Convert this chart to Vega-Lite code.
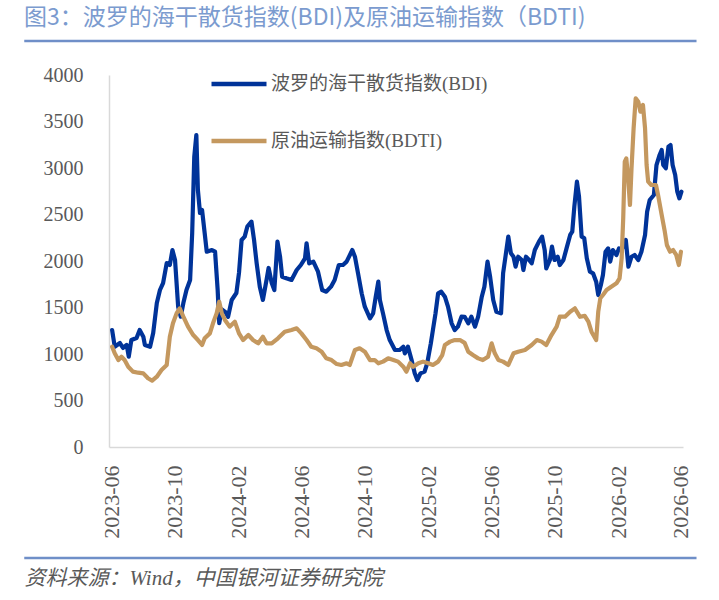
{
"$schema": "https://vega.github.io/schema/vega-lite/v6.json",
"width": 574, "height": 372,
"autosize": {"type": "none"},
"padding": {"left": 109, "top": 75, "right": 36, "bottom": 153},
"background": "white",
"config": {"view": {"stroke": null}, "font": "Liberation Serif"},
"title": {"text": "图3：波罗的海干散货指数(BDI)及原油运输指数（BDTI)", "anchor": "start", "frame": "group", "dx": -85, "dy": 29, "offset": 21, "fontSize": 23, "fontWeight": "normal", "font": "Noto Sans CJK SC", "color": "#7b9bcf", "baseline": "alphabetic"},
"datasets": {
"lines": [
{"d":"2023-06-03","s":"BDI","v":1258},{"d":"2023-06-08","s":"BDI","v":1078},{"d":"2023-06-18","s":"BDI","v":1118},{"d":"2023-06-24","s":"BDI","v":1065},{"d":"2023-07-01","s":"BDI","v":1097},{"d":"2023-07-05","s":"BDI","v":971},{"d":"2023-07-10","s":"BDI","v":1150},{"d":"2023-07-20","s":"BDI","v":1172},{"d":"2023-07-26","s":"BDI","v":1258},{"d":"2023-08-02","s":"BDI","v":1186},{"d":"2023-08-05","s":"BDI","v":1097},{"d":"2023-08-15","s":"BDI","v":1078},{"d":"2023-08-21","s":"BDI","v":1226},{"d":"2023-08-28","s":"BDI","v":1548},{"d":"2023-09-03","s":"BDI","v":1688},{"d":"2023-09-09","s":"BDI","v":1763},{"d":"2023-09-16","s":"BDI","v":1978},{"d":"2023-09-22","s":"BDI","v":1957},{"d":"2023-09-27","s":"BDI","v":2118},{"d":"2023-10-02","s":"BDI","v":2011},{"d":"2023-10-08","s":"BDI","v":1509},{"d":"2023-10-13","s":"BDI","v":1401},{"d":"2023-10-18","s":"BDI","v":1548},{"d":"2023-10-24","s":"BDI","v":1688},{"d":"2023-10-31","s":"BDI","v":1796},{"d":"2023-11-04","s":"BDI","v":2301},{"d":"2023-11-08","s":"BDI","v":3122},{"d":"2023-11-12","s":"BDI","v":3355},{"d":"2023-11-15","s":"BDI","v":2763},{"d":"2023-11-19","s":"BDI","v":2516},{"d":"2023-11-23","s":"BDI","v":2548},{"d":"2023-11-28","s":"BDI","v":2301},{"d":"2023-12-02","s":"BDI","v":2100},{"d":"2023-12-12","s":"BDI","v":2118},{"d":"2023-12-18","s":"BDI","v":2100},{"d":"2023-12-23","s":"BDI","v":1688},{"d":"2023-12-26","s":"BDI","v":1333},{"d":"2023-12-31","s":"BDI","v":1480},{"d":"2024-01-07","s":"BDI","v":1450},{"d":"2024-01-12","s":"BDI","v":1400},{"d":"2024-01-19","s":"BDI","v":1581},{"d":"2024-01-28","s":"BDI","v":1656},{"d":"2024-02-02","s":"BDI","v":1871},{"d":"2024-02-07","s":"BDI","v":2226},{"d":"2024-02-13","s":"BDI","v":2262},{"d":"2024-02-18","s":"BDI","v":2369},{"d":"2024-02-26","s":"BDI","v":2423},{"d":"2024-03-02","s":"BDI","v":2226},{"d":"2024-03-07","s":"BDI","v":1975},{"d":"2024-03-13","s":"BDI","v":1724},{"d":"2024-03-19","s":"BDI","v":1581},{"d":"2024-03-26","s":"BDI","v":1796},{"d":"2024-03-30","s":"BDI","v":1925},{"d":"2024-04-05","s":"BDI","v":1763},{"d":"2024-04-10","s":"BDI","v":1688},{"d":"2024-04-16","s":"BDI","v":2208},{"d":"2024-04-21","s":"BDI","v":2046},{"d":"2024-04-25","s":"BDI","v":1831},{"d":"2024-05-03","s":"BDI","v":1814},{"d":"2024-05-13","s":"BDI","v":1796},{"d":"2024-05-23","s":"BDI","v":1903},{"d":"2024-05-31","s":"BDI","v":1957},{"d":"2024-06-08","s":"BDI","v":2029},{"d":"2024-06-11","s":"BDI","v":2190},{"d":"2024-06-16","s":"BDI","v":1975},{"d":"2024-06-24","s":"BDI","v":1993},{"d":"2024-07-03","s":"BDI","v":1885},{"d":"2024-07-11","s":"BDI","v":1688},{"d":"2024-07-19","s":"BDI","v":1670},{"d":"2024-07-28","s":"BDI","v":1724},{"d":"2024-08-04","s":"BDI","v":1796},{"d":"2024-08-12","s":"BDI","v":1957},{"d":"2024-08-20","s":"BDI","v":1957},{"d":"2024-08-27","s":"BDI","v":1993},{"d":"2024-09-07","s":"BDI","v":2118},{"d":"2024-09-12","s":"BDI","v":2046},{"d":"2024-09-18","s":"BDI","v":1868},{"d":"2024-09-25","s":"BDI","v":1652},{"d":"2024-10-01","s":"BDI","v":1509},{"d":"2024-10-11","s":"BDI","v":1384},{"d":"2024-10-17","s":"BDI","v":1437},{"d":"2024-10-22","s":"BDI","v":1616},{"d":"2024-10-27","s":"BDI","v":1778},{"d":"2024-10-30","s":"BDI","v":1581},{"d":"2024-11-05","s":"BDI","v":1437},{"d":"2024-11-12","s":"BDI","v":1258},{"d":"2024-11-18","s":"BDI","v":1150},{"d":"2024-11-28","s":"BDI","v":1043},{"d":"2024-12-07","s":"BDI","v":1043},{"d":"2024-12-14","s":"BDI","v":1078},{"d":"2024-12-17","s":"BDI","v":1007},{"d":"2024-12-23","s":"BDI","v":1078},{"d":"2024-12-30","s":"BDI","v":935},{"d":"2025-01-05","s":"BDI","v":792},{"d":"2025-01-10","s":"BDI","v":720},{"d":"2025-01-16","s":"BDI","v":792},{"d":"2025-01-24","s":"BDI","v":810},{"d":"2025-01-29","s":"BDI","v":900},{"d":"2025-02-05","s":"BDI","v":1115},{"d":"2025-02-09","s":"BDI","v":1258},{"d":"2025-02-14","s":"BDI","v":1437},{"d":"2025-02-19","s":"BDI","v":1652},{"d":"2025-02-25","s":"BDI","v":1670},{"d":"2025-03-04","s":"BDI","v":1616},{"d":"2025-03-10","s":"BDI","v":1509},{"d":"2025-03-17","s":"BDI","v":1330},{"d":"2025-03-23","s":"BDI","v":1258},{"d":"2025-03-29","s":"BDI","v":1294},{"d":"2025-04-05","s":"BDI","v":1401},{"d":"2025-04-11","s":"BDI","v":1400},{"d":"2025-04-18","s":"BDI","v":1330},{"d":"2025-04-24","s":"BDI","v":1401},{"d":"2025-05-01","s":"BDI","v":1294},{"d":"2025-05-07","s":"BDI","v":1401},{"d":"2025-05-14","s":"BDI","v":1616},{"d":"2025-05-19","s":"BDI","v":1724},{"d":"2025-05-25","s":"BDI","v":1993},{"d":"2025-05-30","s":"BDI","v":1831},{"d":"2025-06-05","s":"BDI","v":1581},{"d":"2025-06-11","s":"BDI","v":1455},{"d":"2025-06-20","s":"BDI","v":1437},{"d":"2025-06-24","s":"BDI","v":1868},{"d":"2025-06-29","s":"BDI","v":2065},{"d":"2025-07-04","s":"BDI","v":2262},{"d":"2025-07-09","s":"BDI","v":2083},{"d":"2025-07-14","s":"BDI","v":2046},{"d":"2025-07-18","s":"BDI","v":1939},{"d":"2025-07-23","s":"BDI","v":2046},{"d":"2025-07-30","s":"BDI","v":2011},{"d":"2025-08-02","s":"BDI","v":1903},{"d":"2025-08-07","s":"BDI","v":2046},{"d":"2025-08-13","s":"BDI","v":2011},{"d":"2025-08-18","s":"BDI","v":1975},{"d":"2025-08-24","s":"BDI","v":2118},{"d":"2025-09-01","s":"BDI","v":2208},{"d":"2025-09-07","s":"BDI","v":2262},{"d":"2025-09-12","s":"BDI","v":2118},{"d":"2025-09-15","s":"BDI","v":1921},{"d":"2025-09-22","s":"BDI","v":2011},{"d":"2025-09-26","s":"BDI","v":2154},{"d":"2025-10-01","s":"BDI","v":2011},{"d":"2025-10-07","s":"BDI","v":2046},{"d":"2025-10-11","s":"BDI","v":1957},{"d":"2025-10-18","s":"BDI","v":2011},{"d":"2025-10-24","s":"BDI","v":2136},{"d":"2025-10-31","s":"BDI","v":2280},{"d":"2025-11-04","s":"BDI","v":2315},{"d":"2025-11-08","s":"BDI","v":2584},{"d":"2025-11-13","s":"BDI","v":2853},{"d":"2025-11-17","s":"BDI","v":2692},{"d":"2025-11-22","s":"BDI","v":2262},{"d":"2025-11-27","s":"BDI","v":2247},{"d":"2025-12-02","s":"BDI","v":2029},{"d":"2025-12-08","s":"BDI","v":1885},{"d":"2025-12-14","s":"BDI","v":1868},{"d":"2025-12-20","s":"BDI","v":1778},{"d":"2025-12-24","s":"BDI","v":1634},{"d":"2025-12-29","s":"BDI","v":1742},{"d":"2026-01-02","s":"BDI","v":1849},{"d":"2026-01-07","s":"BDI","v":2100},{"d":"2026-01-12","s":"BDI","v":2136},{"d":"2026-01-16","s":"BDI","v":1993},{"d":"2026-01-21","s":"BDI","v":2118},{"d":"2026-01-28","s":"BDI","v":2065},{"d":"2026-02-02","s":"BDI","v":2136},{"d":"2026-02-07","s":"BDI","v":2118},{"d":"2026-02-15","s":"BDI","v":2226},{"d":"2026-02-20","s":"BDI","v":1939},{"d":"2026-02-26","s":"BDI","v":2046},{"d":"2026-03-04","s":"BDI","v":2065},{"d":"2026-03-11","s":"BDI","v":2011},{"d":"2026-03-17","s":"BDI","v":2100},{"d":"2026-03-24","s":"BDI","v":2280},{"d":"2026-03-28","s":"BDI","v":2530},{"d":"2026-04-02","s":"BDI","v":2656},{"d":"2026-04-10","s":"BDI","v":2710},{"d":"2026-04-15","s":"BDI","v":3032},{"d":"2026-04-21","s":"BDI","v":3140},{"d":"2026-04-25","s":"BDI","v":3194},{"d":"2026-04-28","s":"BDI","v":3032},{"d":"2026-05-03","s":"BDI","v":2997},{"d":"2026-05-08","s":"BDI","v":3229},{"d":"2026-05-12","s":"BDI","v":3247},{"d":"2026-05-16","s":"BDI","v":3032},{"d":"2026-05-21","s":"BDI","v":2925},{"d":"2026-05-25","s":"BDI","v":2745},{"d":"2026-05-29","s":"BDI","v":2674},{"d":"2026-06-02","s":"BDI","v":2745},
{"d":"2023-06-03","s":"BDTI","v":1078},{"d":"2023-06-08","s":"BDTI","v":1007},{"d":"2023-06-15","s":"BDTI","v":935},{"d":"2023-06-21","s":"BDTI","v":971},{"d":"2023-06-27","s":"BDTI","v":935},{"d":"2023-07-04","s":"BDTI","v":863},{"d":"2023-07-13","s":"BDTI","v":810},{"d":"2023-07-23","s":"BDTI","v":799},{"d":"2023-08-02","s":"BDTI","v":792},{"d":"2023-08-11","s":"BDTI","v":739},{"d":"2023-08-19","s":"BDTI","v":713},{"d":"2023-08-28","s":"BDTI","v":756},{"d":"2023-09-06","s":"BDTI","v":828},{"d":"2023-09-16","s":"BDTI","v":882},{"d":"2023-09-22","s":"BDTI","v":1186},{"d":"2023-09-28","s":"BDTI","v":1330},{"d":"2023-10-05","s":"BDTI","v":1437},{"d":"2023-10-11","s":"BDTI","v":1491},{"d":"2023-10-18","s":"BDTI","v":1401},{"d":"2023-10-27","s":"BDTI","v":1294},{"d":"2023-11-06","s":"BDTI","v":1204},{"d":"2023-11-15","s":"BDTI","v":1150},{"d":"2023-11-23","s":"BDTI","v":1097},{"d":"2023-11-28","s":"BDTI","v":1169},{"d":"2023-12-08","s":"BDTI","v":1222},{"d":"2023-12-14","s":"BDTI","v":1330},{"d":"2023-12-21","s":"BDTI","v":1437},{"d":"2023-12-26","s":"BDTI","v":1562},{"d":"2023-12-31","s":"BDTI","v":1437},{"d":"2024-01-06","s":"BDTI","v":1366},{"d":"2024-01-15","s":"BDTI","v":1294},{"d":"2024-01-25","s":"BDTI","v":1348},{"d":"2024-02-02","s":"BDTI","v":1222},{"d":"2024-02-10","s":"BDTI","v":1150},{"d":"2024-02-20","s":"BDTI","v":1204},{"d":"2024-02-29","s":"BDTI","v":1150},{"d":"2024-03-10","s":"BDTI","v":1115},{"d":"2024-03-19","s":"BDTI","v":1186},{"d":"2024-03-26","s":"BDTI","v":1115},{"d":"2024-04-05","s":"BDTI","v":1115},{"d":"2024-04-17","s":"BDTI","v":1169},{"d":"2024-04-30","s":"BDTI","v":1240},{"d":"2024-05-13","s":"BDTI","v":1258},{"d":"2024-05-23","s":"BDTI","v":1276},{"d":"2024-06-01","s":"BDTI","v":1222},{"d":"2024-06-11","s":"BDTI","v":1150},{"d":"2024-06-20","s":"BDTI","v":1078},{"d":"2024-06-30","s":"BDTI","v":1061},{"d":"2024-07-10","s":"BDTI","v":1025},{"d":"2024-07-19","s":"BDTI","v":953},{"d":"2024-07-29","s":"BDTI","v":935},{"d":"2024-08-08","s":"BDTI","v":892},{"d":"2024-08-17","s":"BDTI","v":882},{"d":"2024-08-27","s":"BDTI","v":900},{"d":"2024-09-02","s":"BDTI","v":882},{"d":"2024-09-12","s":"BDTI","v":1043},{"d":"2024-09-21","s":"BDTI","v":1061},{"d":"2024-10-01","s":"BDTI","v":1025},{"d":"2024-10-11","s":"BDTI","v":935},{"d":"2024-10-20","s":"BDTI","v":935},{"d":"2024-10-27","s":"BDTI","v":900},{"d":"2024-11-05","s":"BDTI","v":918},{"d":"2024-11-15","s":"BDTI","v":953},{"d":"2024-11-25","s":"BDTI","v":935},{"d":"2024-12-04","s":"BDTI","v":918},{"d":"2024-12-14","s":"BDTI","v":863},{"d":"2024-12-20","s":"BDTI","v":810},{"d":"2024-12-27","s":"BDTI","v":900},{"d":"2025-01-02","s":"BDTI","v":863},{"d":"2025-01-12","s":"BDTI","v":900},{"d":"2025-01-21","s":"BDTI","v":918},{"d":"2025-01-31","s":"BDTI","v":900},{"d":"2025-02-09","s":"BDTI","v":882},{"d":"2025-02-19","s":"BDTI","v":918},{"d":"2025-02-27","s":"BDTI","v":989},{"d":"2025-03-04","s":"BDTI","v":1097},{"d":"2025-03-14","s":"BDTI","v":1133},{"d":"2025-03-23","s":"BDTI","v":1150},{"d":"2025-04-02","s":"BDTI","v":1150},{"d":"2025-04-11","s":"BDTI","v":1120},{"d":"2025-04-18","s":"BDTI","v":1025},{"d":"2025-04-27","s":"BDTI","v":989},{"d":"2025-05-07","s":"BDTI","v":953},{"d":"2025-05-16","s":"BDTI","v":935},{"d":"2025-05-26","s":"BDTI","v":971},{"d":"2025-06-02","s":"BDTI","v":1115},{"d":"2025-06-08","s":"BDTI","v":1007},{"d":"2025-06-15","s":"BDTI","v":935},{"d":"2025-06-24","s":"BDTI","v":918},{"d":"2025-07-04","s":"BDTI","v":882},{"d":"2025-07-14","s":"BDTI","v":1007},{"d":"2025-07-23","s":"BDTI","v":1025},{"d":"2025-08-05","s":"BDTI","v":1043},{"d":"2025-08-18","s":"BDTI","v":1097},{"d":"2025-08-28","s":"BDTI","v":1150},{"d":"2025-09-06","s":"BDTI","v":1133},{"d":"2025-09-15","s":"BDTI","v":1097},{"d":"2025-09-25","s":"BDTI","v":1204},{"d":"2025-10-05","s":"BDTI","v":1294},{"d":"2025-10-11","s":"BDTI","v":1401},{"d":"2025-10-21","s":"BDTI","v":1401},{"d":"2025-10-31","s":"BDTI","v":1455},{"d":"2025-11-09","s":"BDTI","v":1491},{"d":"2025-11-19","s":"BDTI","v":1400},{"d":"2025-11-28","s":"BDTI","v":1410},{"d":"2025-12-05","s":"BDTI","v":1348},{"d":"2025-12-11","s":"BDTI","v":1240},{"d":"2025-12-20","s":"BDTI","v":1150},{"d":"2025-12-24","s":"BDTI","v":1455},{"d":"2025-12-28","s":"BDTI","v":1599},{"d":"2026-01-02","s":"BDTI","v":1634},{"d":"2026-01-09","s":"BDTI","v":1688},{"d":"2026-01-18","s":"BDTI","v":1724},{"d":"2026-01-28","s":"BDTI","v":1760},{"d":"2026-02-03","s":"BDTI","v":1814},{"d":"2026-02-07","s":"BDTI","v":2029},{"d":"2026-02-10","s":"BDTI","v":2459},{"d":"2026-02-13","s":"BDTI","v":3068},{"d":"2026-02-16","s":"BDTI","v":3104},{"d":"2026-02-20","s":"BDTI","v":2853},{"d":"2026-02-23","s":"BDTI","v":2602},{"d":"2026-02-26","s":"BDTI","v":2997},{"d":"2026-03-02","s":"BDTI","v":3427},{"d":"2026-03-06","s":"BDTI","v":3749},{"d":"2026-03-11","s":"BDTI","v":3713},{"d":"2026-03-15","s":"BDTI","v":3606},{"d":"2026-03-20","s":"BDTI","v":3677},{"d":"2026-03-24","s":"BDTI","v":3427},{"d":"2026-03-27","s":"BDTI","v":3032},{"d":"2026-03-30","s":"BDTI","v":2853},{"d":"2026-04-05","s":"BDTI","v":2817},{"d":"2026-04-14","s":"BDTI","v":2817},{"d":"2026-04-18","s":"BDTI","v":2710},{"d":"2026-04-25","s":"BDTI","v":2495},{"d":"2026-05-01","s":"BDTI","v":2315},{"d":"2026-05-05","s":"BDTI","v":2172},{"d":"2026-05-11","s":"BDTI","v":2100},{"d":"2026-05-17","s":"BDTI","v":2118},{"d":"2026-05-23","s":"BDTI","v":2065},{"d":"2026-05-28","s":"BDTI","v":1957},{"d":"2026-06-01","s":"BDTI","v":2100}
],
"rules": [{"y": 4366}, {"y": -1194}]
},
"layer": [
{
"data": {"name": "rules"},
"mark": {"type": "rule", "color": "#6f8fc8", "strokeWidth": 2.5},
"encoding": {
"x": {"datum": {"year": 2022, "month": 12, "date": 16, "utc": true}, "type": "temporal", "scale": {"type": "utc", "domain": [{"year": 2023, "month": 5, "date": 28, "utc": true}, {"year": 2026, "month": 6, "date": 5, "utc": true}]}},
"x2": {"datum": {"year": 2026, "month": 7, "date": 1, "utc": true}},
"y": {"field": "y", "type": "quantitative", "scale": {"domain": [0, 4000]}}
}
},
{
"data": {"name": "lines"},
"mark": {"type": "line", "strokeWidth": 4.2, "strokeJoin": "round", "strokeCap": "round"},
"encoding": {
"x": {"field": "d", "type": "temporal",
"scale": {"type": "utc", "domain": [{"year": 2023, "month": 5, "date": 28, "utc": true}, {"year": 2026, "month": 6, "date": 5, "utc": true}]},
"axis": {"values": [{"year": 2023, "month": 6, "date": 1, "utc": true}, {"year": 2023, "month": 10, "date": 1, "utc": true}, {"year": 2024, "month": 2, "date": 1, "utc": true}, {"year": 2024, "month": 6, "date": 1, "utc": true}, {"year": 2024, "month": 10, "date": 1, "utc": true}, {"year": 2025, "month": 2, "date": 1, "utc": true}, {"year": 2025, "month": 6, "date": 1, "utc": true}, {"year": 2025, "month": 10, "date": 1, "utc": true}, {"year": 2026, "month": 2, "date": 1, "utc": true}, {"year": 2026, "month": 6, "date": 1, "utc": true}],
"format": "%Y-%m", "labelAngle": 270, "labelAlign": "right", "labelBaseline": "middle", "labelPadding": 18, "ticks": false, "grid": false, "domainColor": "#d9d9d9", "domainWidth": 1.5, "labelFont": "Liberation Serif", "labelFontSize": 22, "labelColor": "#595959", "labelOverlap": false, "labelFlush": false,
"title": "资料来源：Wind，中国银河证券研究院", "titleFont": "Liberation Serif, Noto Sans CJK SC", "titleFontStyle": "italic", "titleFontWeight": "normal", "titleFontSize": 21, "titleColor": "#595959", "titleAnchor": "start", "titleAlign": "left", "titleX": -85, "titleY": 131, "titleBaseline": "middle", "titleAngle": 0}},
"y": {"field": "v", "type": "quantitative", "scale": {"domain": [0, 4000]},
"axis": {"values": [0, 500, 1000, 1500, 2000, 2500, 3000, 3500, 4000], "format": "d", "ticks": false, "grid": false, "domainColor": "#d9d9d9", "domainWidth": 1.5, "labelPadding": 26, "labelFont": "Liberation Serif", "labelFontSize": 20, "labelColor": "#595959", "title": null}},
"color": {"field": "s", "type": "nominal", "scale": {"domain": ["BDI", "BDTI"], "range": ["#003399", "#c4985f"]},
"legend": {"title": null, "orient": "none", "legendX": 100, "legendY": -21, "symbolType": "stroke", "symbolSize": 3025, "symbolStrokeWidth": 4.5, "labelFontSize": 19, "labelFont": "Liberation Serif, Noto Sans CJK SC", "labelColor": "#595959", "labelOffset": 2, "rowPadding": 17, "labelLimit": 400, "padding": 0,
"labelExpr": "datum.label == 'BDI' ? '波罗的海干散货指数(BDI)' : '原油运输指数(BDTI)'"}}
}
}
]
}
